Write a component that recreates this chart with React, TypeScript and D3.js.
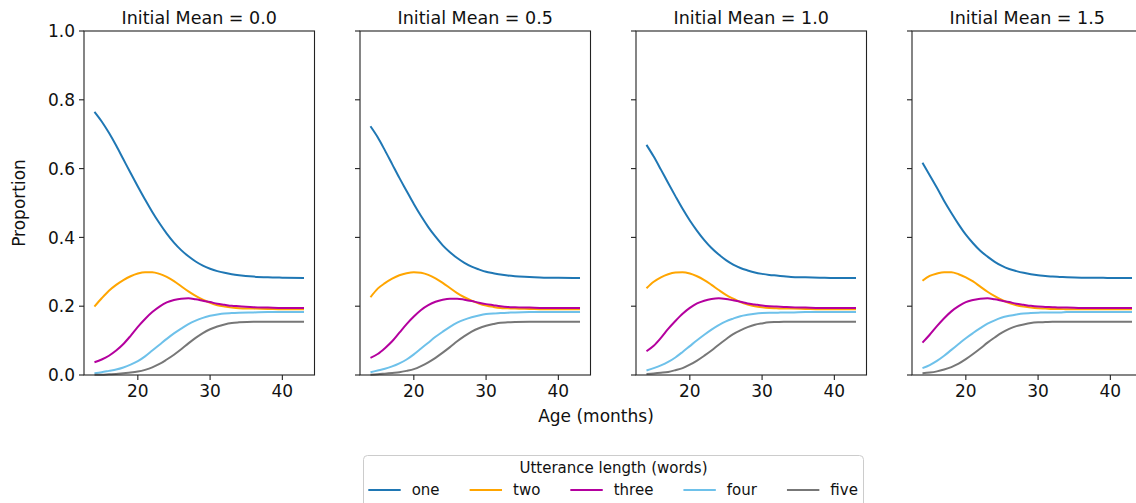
import React from "react";
import * as d3 from "d3";

// ---------- data ----------
const ages = [14, 15, 16, 17, 18, 19, 20, 21, 22, 23, 24, 25, 26, 27, 28, 29, 30, 31, 32, 33, 34, 36, 38, 40, 43];
const seriesNames = ["one", "two", "three", "four", "five"];
const panelTitles = ["Initial Mean = 0.0", "Initial Mean = 0.5", "Initial Mean = 1.0", "Initial Mean = 1.5"];
const xTicks = [20, 30, 40];
const yTicks = [0, 0.2, 0.4, 0.6, 0.8, 1.0];

// Initial Mean = 0.0
const one00 = [0.765, 0.737, 0.704, 0.667, 0.627, 0.587, 0.548, 0.510, 0.474, 0.441, 0.411, 0.385, 0.363, 0.345, 0.330, 0.318, 0.309, 0.302, 0.297, 0.293, 0.290, 0.286, 0.284, 0.283, 0.282];
const two00 = [0.199, 0.223, 0.245, 0.262, 0.276, 0.287, 0.295, 0.299, 0.299, 0.294, 0.285, 0.273, 0.258, 0.243, 0.230, 0.219, 0.210, 0.203, 0.199, 0.196, 0.194, 0.193, 0.192, 0.191, 0.191];
const three00 = [0.037, 0.045, 0.056, 0.071, 0.090, 0.114, 0.140, 0.163, 0.183, 0.199, 0.211, 0.218, 0.222, 0.223, 0.220, 0.216, 0.212, 0.207, 0.204, 0.201, 0.200, 0.197, 0.196, 0.195, 0.195];
const four00 = [0.005, 0.008, 0.012, 0.016, 0.022, 0.030, 0.040, 0.054, 0.071, 0.088, 0.105, 0.121, 0.135, 0.148, 0.158, 0.166, 0.172, 0.176, 0.179, 0.180, 0.181, 0.182, 0.183, 0.183, 0.183];
const five00 = [0.001, 0.001, 0.002, 0.003, 0.005, 0.007, 0.010, 0.015, 0.022, 0.032, 0.045, 0.059, 0.075, 0.092, 0.108, 0.122, 0.133, 0.141, 0.147, 0.151, 0.153, 0.155, 0.155, 0.155, 0.155];

// Initial Mean = 0.5
const one05 = [0.723, 0.691, 0.653, 0.613, 0.573, 0.535, 0.497, 0.462, 0.430, 0.402, 0.377, 0.357, 0.340, 0.326, 0.315, 0.307, 0.300, 0.296, 0.292, 0.289, 0.287, 0.285, 0.283, 0.283, 0.282];
const two05 = [0.226, 0.251, 0.267, 0.280, 0.290, 0.296, 0.299, 0.297, 0.291, 0.281, 0.268, 0.253, 0.238, 0.226, 0.216, 0.208, 0.202, 0.198, 0.195, 0.194, 0.193, 0.192, 0.191, 0.191, 0.191];
const three05 = [0.050, 0.061, 0.078, 0.098, 0.123, 0.148, 0.170, 0.189, 0.203, 0.213, 0.219, 0.222, 0.222, 0.219, 0.215, 0.210, 0.206, 0.203, 0.200, 0.198, 0.197, 0.196, 0.195, 0.195, 0.195];
const four05 = [0.008, 0.013, 0.018, 0.025, 0.034, 0.045, 0.060, 0.077, 0.094, 0.111, 0.126, 0.140, 0.152, 0.161, 0.168, 0.173, 0.177, 0.179, 0.180, 0.181, 0.182, 0.183, 0.183, 0.183, 0.183];
const five05 = [0.001, 0.002, 0.004, 0.006, 0.008, 0.012, 0.017, 0.026, 0.037, 0.050, 0.065, 0.081, 0.098, 0.113, 0.126, 0.136, 0.143, 0.148, 0.152, 0.153, 0.154, 0.155, 0.155, 0.155, 0.155];

// Initial Mean = 1.0
const one10 = [0.669, 0.635, 0.597, 0.558, 0.520, 0.483, 0.449, 0.419, 0.392, 0.369, 0.350, 0.334, 0.321, 0.311, 0.304, 0.298, 0.294, 0.291, 0.289, 0.287, 0.285, 0.284, 0.283, 0.282, 0.282];
const two10 = [0.252, 0.271, 0.284, 0.293, 0.298, 0.299, 0.295, 0.287, 0.276, 0.262, 0.247, 0.233, 0.222, 0.212, 0.205, 0.200, 0.197, 0.195, 0.194, 0.193, 0.193, 0.192, 0.191, 0.191, 0.191];
const three10 = [0.069, 0.085, 0.108, 0.134, 0.157, 0.178, 0.195, 0.208, 0.216, 0.221, 0.223, 0.221, 0.217, 0.213, 0.208, 0.205, 0.202, 0.200, 0.199, 0.198, 0.197, 0.196, 0.195, 0.195, 0.195];
const four10 = [0.013, 0.020, 0.028, 0.038, 0.051, 0.067, 0.084, 0.101, 0.117, 0.132, 0.145, 0.156, 0.164, 0.171, 0.175, 0.178, 0.180, 0.181, 0.181, 0.182, 0.182, 0.183, 0.183, 0.183, 0.183];
const five10 = [0.003, 0.0045, 0.0065, 0.009, 0.014, 0.020, 0.030, 0.042, 0.056, 0.071, 0.088, 0.104, 0.119, 0.130, 0.139, 0.146, 0.150, 0.153, 0.154, 0.155, 0.155, 0.155, 0.155, 0.155, 0.155];

// Initial Mean = 1.5
const one15 = [0.617, 0.581, 0.544, 0.506, 0.471, 0.438, 0.408, 0.383, 0.361, 0.344, 0.329, 0.317, 0.308, 0.302, 0.297, 0.293, 0.290, 0.288, 0.286, 0.285, 0.284, 0.283, 0.283, 0.282, 0.282];
const two15 = [0.274, 0.288, 0.295, 0.299, 0.299, 0.293, 0.284, 0.272, 0.257, 0.242, 0.229, 0.218, 0.209, 0.203, 0.199, 0.196, 0.194, 0.193, 0.192, 0.192, 0.191, 0.191, 0.191, 0.191, 0.191];
const three15 = [0.094, 0.117, 0.142, 0.165, 0.185, 0.200, 0.212, 0.218, 0.222, 0.223, 0.220, 0.216, 0.212, 0.207, 0.204, 0.201, 0.199, 0.198, 0.197, 0.196, 0.196, 0.195, 0.195, 0.195, 0.195];
const four15 = [0.020, 0.029, 0.041, 0.056, 0.073, 0.090, 0.107, 0.122, 0.136, 0.149, 0.159, 0.167, 0.172, 0.176, 0.179, 0.180, 0.181, 0.182, 0.182, 0.182, 0.183, 0.183, 0.183, 0.183, 0.183];
const five15 = [0.005, 0.007, 0.0105, 0.016, 0.023, 0.033, 0.046, 0.061, 0.077, 0.094, 0.109, 0.123, 0.134, 0.142, 0.147, 0.151, 0.153, 0.154, 0.155, 0.155, 0.155, 0.155, 0.155, 0.155, 0.155];

const panelSeries = [
  [one00, two00, three00, four00, five00],
  [one05, two05, three05, four05, five05],
  [one10, two10, three10, four10, five10],
  [one15, two15, three15, four15, five15],
];

const colors = ["#1f77b4", "#ffa500", "#b4009e", "#6ec1ea", "#777777"];

// ---------- layout ----------
const W = 1136;
const H = 503;
const FONT = "DejaVu Sans, Verdana, sans-serif";
const panelLeft0 = 84;
const panelStep = 276;
const panelW = 230.5;
const top = 31;
const bottom = 375;
const xDomain = [12.55, 44.45];

function textWidth(s: string, size: number) {
  if (typeof document === "undefined") return s.length * size * 0.6;
  const c = document.createElement("canvas");
  const ctx = c.getContext("2d");
  if (!ctx) return s.length * size * 0.6;
  ctx.font = `${size}px ${FONT}`;
  return ctx.measureText(s).width;
}

export default function App() {
  const y = d3.scaleLinear().domain([0, 1]).range([bottom, top]);

  const panels = panelSeries.map((series, pi) => {
    const left = panelLeft0 + pi * panelStep;
    const x = d3.scaleLinear().domain(xDomain).range([left, left + panelW]);
    const line = d3
      .line<number>()
      .x((_, i) => x(ages[i]))
      .y((d) => y(d))
      .curve(d3.curveMonotoneX);
    return (
      <g key={pi}>
        {series.map((vals, si) => (
          <path key={si} d={line(vals) || ""} fill="none" stroke={colors[si]} strokeWidth={2} />
        ))}
        <rect x={left} y={top} width={panelW} height={bottom - top} fill="none" stroke="#222" strokeWidth={1.1} />
        {yTicks.map((t) => (
          <g key={t}>
            <line x1={left - 5} x2={left} y1={y(t)} y2={y(t)} stroke="#222" strokeWidth={1.1} />
            {pi === 0 && (
              <text x={left - 9} y={y(t)} dy="0.36em" textAnchor="end" fontSize={17} fontFamily={FONT} fill="#111">
                {t.toFixed(1)}
              </text>
            )}
          </g>
        ))}
        {xTicks.map((t) => (
          <g key={t}>
            <line x1={x(t)} x2={x(t)} y1={bottom} y2={bottom + 5} stroke="#222" strokeWidth={1.1} />
            <text x={x(t)} y={397} textAnchor="middle" fontSize={17} fontFamily={FONT} fill="#111">
              {t}
            </text>
          </g>
        ))}
        <text x={left + panelW / 2} y={24} textAnchor="middle" fontSize={17.5} fontFamily={FONT} fill="#111">
          {panelTitles[pi]}
        </text>
      </g>
    );
  });

  // legend
  const legLeft = 363.5;
  const legTop = 455.5;
  const legW = 500;
  const legFont = 15;
  const handleLen = 32.4;
  const handlePad = 11;
  const colSpace = 30;
  let cx = 368.3;
  const legendItems = seriesNames.map((name, i) => {
    const x0 = cx;
    const tw = textWidth(name, legFont);
    cx = x0 + handleLen + handlePad + tw + colSpace;
    return (
      <g key={name}>
        <line x1={x0} x2={x0 + handleLen} y1={490} y2={490} stroke={colors[i]} strokeWidth={2} />
        <text x={x0 + handleLen + handlePad} y={495} fontSize={legFont} fontFamily={FONT} fill="#111">
          {name}
        </text>
      </g>
    );
  });

  return (
    <svg
      width={W}
      height={H}
      style={{ position: "absolute", left: 0, top: 0, background: "#fff" }}
      xmlns="http://www.w3.org/2000/svg"
    >
      <rect x={0} y={0} width={W} height={H} fill="#fff" />
      {panels}
      <text
        transform={`translate(24.5, ${(top + bottom) / 2}) rotate(-90)`}
        textAnchor="middle"
        fontSize={17}
        fontFamily={FONT}
        fill="#111"
      >
        Proportion
      </text>
      <text x={596} y={422} textAnchor="middle" fontSize={17} fontFamily={FONT} fill="#111">
        Age (months)
      </text>
      <rect x={legLeft} y={legTop} width={legW} height={70} rx={4} fill="#fff" stroke="#cccccc" strokeWidth={1} />
      <text x={legLeft + legW / 2} y={473} textAnchor="middle" fontSize={legFont} fontFamily={FONT} fill="#111">
        Utterance length (words)
      </text>
      {legendItems}
    </svg>
  );
}
